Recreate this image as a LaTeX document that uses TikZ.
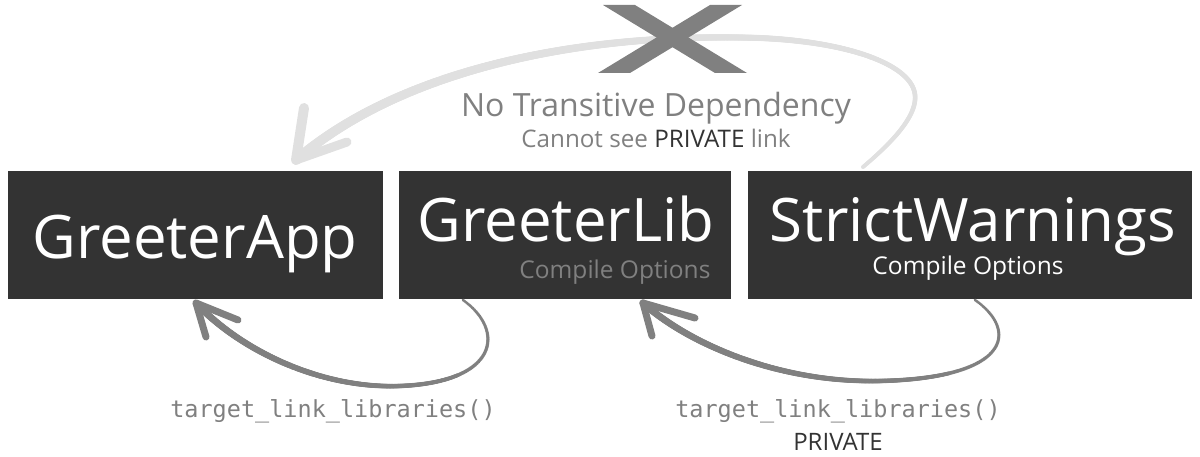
\documentclass[tikz,border=0pt]{standalone}
\usepackage{fontspec}
\setmainfont{Open Sans}
\setmonofont{DejaVu Sans Mono}
\usetikzlibrary{decorations.markings}

\definecolor{boxdark}{HTML}{333333}
\definecolor{midgray}{HTML}{808080}
\definecolor{lightarc}{HTML}{E0E0E0}

\begin{document}
\begin{tikzpicture}[x=1pt, y=-1pt,
        target/.style={fill=boxdark, inner sep=0pt, anchor=north west, minimum height=128pt},
        bigname/.style={anchor=base, text=white, font=\fontsize{60}{60}\selectfont},
        options/.style={anchor=base, font=\fontsize{24.5}{24.5}\selectfont},
        cmake/.style={anchor=base, text=midgray, font=\ttfamily\fontsize{23.5}{23.5}\selectfont},
        brush/.style 2 args={postaction={decorate, decoration={markings,
            mark=between positions 0 and 1 step 0.8pt with {
                \pgfmathsetmacro\brushr{#1*(0.4+0.6*\pgfkeysvalueof{/pgf/decoration/mark info/distance from start}/\pgfdecoratedpathlength)}
                \fill[#2] (0,0) circle (\brushr pt);}}}},
        barb/.style={line width=#1, line cap=round}]
        \useasboundingbox (0,0) rectangle (1200,457);

        % targets
        \node[target, minimum width=375pt] (app) at (8,171) {};
        \node[target, minimum width=332pt] (lib) at (399,171) {};
        \node[target, minimum width=444pt] (warn) at (748,171) {};

        \node[bigname] (appname) at (195,259) {GreeterApp};
        \node[bigname] (libname) at (566,242) {GreeterLib};
        \node[bigname] (warnname) at (973,242) {StrictWarnings};
        \node[options, text=midgray, anchor=base east] (libopts) at (714,279) {Compile Options};
        \node[options, text=white] (warnopts) at (968,275) {Compile Options};

        % no transitive link
        \coordinate (warntail) at (863,167);
        \coordinate (apptop) at (296,160);
        \path[brush={5}{lightarc}] (warntail) .. controls (895,140) and (917,115) .. (915,95)
            .. controls (912,65) and (850,42) .. (760,38)
            .. controls (580,32) and (400,70) .. (apptop);
        \draw[lightarc, barb=10] (apptop) -- (304,108);
        \draw[lightarc, barb=9] (apptop) -- (347,142);
        \fill[midgray] (603,5) -- (635,5) -- (747,73) -- (715,73) -- cycle;
        \fill[midgray] (710,5) -- (742,5) -- (630,73) -- (598,73) -- cycle;
        \node[anchor=base, text=midgray, font=\fontsize{32}{32}\selectfont] (nodep) at (656,117) {No Transitive Dependency};
        \node[anchor=base, text=midgray, font=\fontsize{24.2}{24.2}\selectfont] (cannot) at (656,148) {Cannot see \textcolor{boxdark}{PRIVATE} link};

        % links
        \coordinate (libtail) at (463,300);
        \coordinate (apptip) at (196,303);
        \path[brush={3.6}{midgray}] (libtail) .. controls (505,330) and (500,382) .. (400,386)
            .. controls (320,389) and (240,350) .. (apptip);
        \draw[midgray, barb=7] (apptip) -- (206,337);
        \draw[midgray, barb=7] (apptip) -- (238,320);

        \coordinate (warnout) at (975,300);
        \coordinate (libtip) at (643,303);
        \path[brush={3.6}{midgray}] (warnout) .. controls (1018,330) and (1012,378) .. (880,381)
            .. controls (780,383) and (690,345) .. (libtip);
        \draw[midgray, barb=7] (libtip) -- (652,336);
        \draw[midgray, barb=7] (libtip) -- (695,318);

        \node[cmake] (applink) at (333,417) {target\_link\_libraries()};
        \node[cmake] (liblink) at (838,417) {target\_link\_libraries()};
        \node[anchor=base, text=boxdark, font=\fontsize{24}{24}\selectfont] (private) at (838,450) {PRIVATE};
\end{tikzpicture}
\end{document}
